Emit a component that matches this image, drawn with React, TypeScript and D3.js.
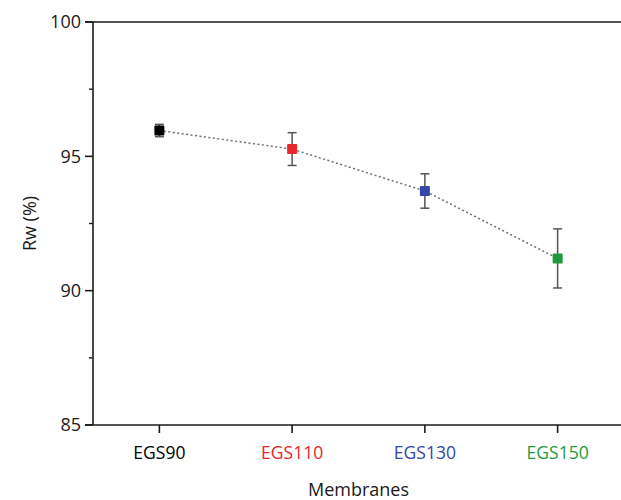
import React from "react";
import * as d3 from "d3";

const categories = ["EGS90", "EGS110", "EGS130", "EGS150"];
const values = [95.96, 95.27, 93.71, 91.2];
const errors = [0.23, 0.61, 0.64, 1.1];
const colors = ["#000000", "#e8262b", "#3447a8", "#1e9a3e"];
const yTicks = [85, 90, 95, 100];
const yMinorTicks = [87.5, 92.5, 97.5];

const W = 621;
const H = 500;
const margin = { left: 93, right: -3, top: 22, bottom: 75 };

export default function App() {
  const x = d3
    .scalePoint<string>()
    .domain(categories)
    .range([margin.left, W - margin.right])
    .padding(0.5);
  const y = d3.scaleLinear().domain([85, 100]).range([H - margin.bottom, margin.top]);
  const line = d3
    .line<number>()
    .x((_, i) => x(categories[i]) as number)
    .y((d) => y(d));
  const font = "'Open Sans', 'Liberation Sans', sans-serif";
  const x0 = margin.left;
  const x1 = W - margin.right;
  const yb = y(85);
  const yt = y(100);
  const ms = 10;
  return (
    <svg
      width={W}
      height={H}
      style={{ position: "absolute", left: 0, top: 0, background: "#fff" }}
      fontFamily={font}
    >
      {/* axes */}
      <line x1={x0} x2={x0} y1={yt} y2={yb} stroke="#1a1a1a" strokeWidth={1.6} />
      <line x1={x0 - 8} x2={x1} y1={yb} y2={yb} stroke="#1a1a1a" strokeWidth={1.6} />
      <line x1={x0 - 8} x2={x1} y1={yt} y2={yt} stroke="#1a1a1a" strokeWidth={1.6} />
      {yTicks.map((t) => (
        <g key={t}>
          <line x1={x0 - 8} x2={x0} y1={y(t)} y2={y(t)} stroke="#1a1a1a" strokeWidth={1.6} />
          <text x={x0 - 12} y={y(t)} dy="0.35em" textAnchor="end" fontSize={18} fill="#1a1a1a">
            {t}
          </text>
        </g>
      ))}
      {yMinorTicks.map((t) => (
        <line key={t} x1={x0 - 4} x2={x0} y1={y(t)} y2={y(t)} stroke="#1a1a1a" strokeWidth={1.4} />
      ))}
      {categories.map((c, i) => (
        <g key={c}>
          <line x1={x(c)} x2={x(c)} y1={yb} y2={yb + 8} stroke="#1a1a1a" strokeWidth={1.6} />
          <text x={x(c)} y={yb + 28} dy="0.35em" textAnchor="middle" fontSize={17.5} fill={colors[i]}>
            {c}
          </text>
        </g>
      ))}
      <text
        x={(x0 + x1) / 2}
        y={490}
        dy="0.35em"
        textAnchor="middle"
        fontSize={18}
        fill="#1a1a1a"
      >
        Membranes
      </text>
      <text
        transform={`translate(${30},${(yt + yb) / 2}) rotate(-90)`}
        textAnchor="middle"
        dy="0.35em"
        fontSize={18}
        fill="#1a1a1a"
      >
        Rw (%)
      </text>
      {/* dotted line */}
      <path
        d={line(values) || ""}
        fill="none"
        stroke="#707070"
        strokeWidth={1.5}
        strokeDasharray="2,2.5"
      />
      {/* error bars */}
      {categories.map((c, i) => {
        const cx = x(c) as number;
        const lo = y(values[i] - errors[i]);
        const hi = y(values[i] + errors[i]);
        return (
          <g key={c} stroke="#555" strokeWidth={1.5}>
            <line x1={cx} x2={cx} y1={lo} y2={hi} />
            <line x1={cx - 4.5} x2={cx + 4.5} y1={lo} y2={lo} />
            <line x1={cx - 4.5} x2={cx + 4.5} y1={hi} y2={hi} />
          </g>
        );
      })}
      {categories.map((c, i) => (
        <rect
          key={c}
          x={(x(c) as number) - ms / 2}
          y={y(values[i]) - ms / 2}
          width={ms}
          height={ms}
          fill={colors[i]}
          rx={1}
        />
      ))}
    </svg>
  );
}
